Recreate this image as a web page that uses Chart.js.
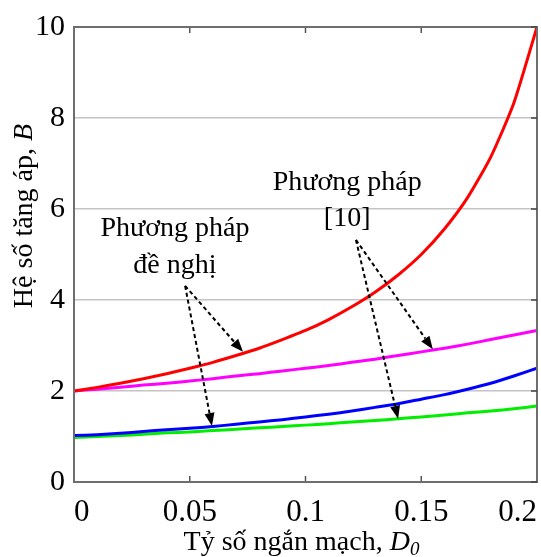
<!DOCTYPE html>
<html>
<head>
<meta charset="utf-8">
<script src="https://cdn.jsdelivr.net/npm/chart.js@4"></script>
<style>
  html, body { margin: 0; padding: 0; background: #fff; }
  #wrap { width: 541px; height: 557px; }
</style>
</head>
<body>
<div id="wrap"><canvas id="chart" width="541" height="557"></canvas></div>
<script>
// Tỷ số ngắn mạch D0
const d0 = [0, 0.01, 0.02, 0.03, 0.04, 0.05, 0.06, 0.07, 0.08, 0.09, 0.10,
            0.11, 0.12, 0.13, 0.14, 0.15, 0.16, 0.17, 0.18, 0.19, 0.20];

// Hệ số tăng áp B
const redB     = [2.00, 2.08, 2.17, 2.27, 2.38, 2.50, 2.63, 2.78, 2.94, 3.13, 3.33,
                  3.57, 3.85, 4.17, 4.55, 5.00, 5.56, 6.25, 7.14, 8.33, 10.0];
const magentaB = [2.00, 2.04, 2.08, 2.13, 2.17, 2.22, 2.27, 2.33, 2.38, 2.44, 2.50,
                  2.56, 2.63, 2.70, 2.78, 2.86, 2.94, 3.03, 3.13, 3.23, 3.33];
const blueB    = [1.02, 1.04, 1.07, 1.11, 1.15, 1.18, 1.22, 1.27, 1.32, 1.37, 1.43,
                  1.49, 1.56, 1.64, 1.72, 1.82, 1.92, 2.04, 2.17, 2.33, 2.50];
const greenB   = [0.98, 1.00, 1.02, 1.05, 1.08, 1.10, 1.13, 1.16, 1.19, 1.22, 1.25,
                  1.28, 1.32, 1.35, 1.39, 1.43, 1.47, 1.52, 1.56, 1.61, 1.67];

const xTicks = [0, 0.05, 0.1, 0.15, 0.2];
const yTicks = [0, 2, 4, 6, 8, 10];

// chú thích: chữ và mũi tên (tọa độ dữ liệu)
const notes = [
  { lines: ['Phương pháp', 'đề nghị'], x: 0.0436, y: [5.56, 4.76],
    from: [0.048, 4.31], to: [[0.073, 2.86], [0.0596, 1.23]] },
  { lines: ['Phương pháp', '[10]'], x: 0.118, y: [6.58, 5.78],
    from: [0.1218, 5.32], to: [[0.155, 2.92], [0.14, 1.39]] }
];

const serif = '"Liberation Serif", "Times New Roman", serif';

function toXY(xs, ys) {
  return xs.map((x, i) => ({ x: x, y: ys[i] }));
}

function arrow(ctx, x1, y1, x2, y2) {
  const ang = Math.atan2(y2 - y1, x2 - x1);
  const len = 13, half = 5;
  const bx = x2 - len * Math.cos(ang), by = y2 - len * Math.sin(ang);
  ctx.save();
  ctx.strokeStyle = '#000';
  ctx.lineWidth = 2;
  ctx.setLineDash([4, 3]);
  ctx.beginPath();
  ctx.moveTo(x1, y1);
  ctx.lineTo(bx, by);
  ctx.stroke();
  ctx.setLineDash([]);
  ctx.fillStyle = '#000';
  ctx.beginPath();
  ctx.moveTo(x2, y2);
  ctx.lineTo(bx + half * Math.sin(ang), by - half * Math.cos(ang));
  ctx.lineTo(bx - half * Math.sin(ang), by + half * Math.cos(ang));
  ctx.closePath();
  ctx.fill();
  ctx.restore();
}

const decor = {
  id: 'decor',
  beforeDatasetsDraw(chart) {
    const { ctx, chartArea: a, scales: { x } } = chart;
    ctx.save();
    ctx.strokeStyle = '#555';
    ctx.lineWidth = 1.5;
    // vạch chia trục x phía trong (trên và dưới)
    xTicks.forEach(v => {
      const px = x.getPixelForValue(v);
      ctx.beginPath();
      ctx.moveTo(px, a.bottom); ctx.lineTo(px, a.bottom - 6);
      ctx.moveTo(px, a.top); ctx.lineTo(px, a.top + 6);
      ctx.stroke();
    });
    ctx.restore();
  },
  afterDatasetsDraw(chart) {
    const { ctx, chartArea: a, scales: { x, y } } = chart;
    ctx.save();
    // khung
    ctx.strokeStyle = '#6e6e6e';
    ctx.lineWidth = 2;
    ctx.strokeRect(a.left, a.top, a.right - a.left, a.bottom - a.top);
    ctx.strokeStyle = '#444';
    ctx.lineWidth = 1.5;
    yTicks.forEach(v => {
      const py = y.getPixelForValue(v);
      ctx.beginPath();
      ctx.moveTo(a.right, py); ctx.lineTo(a.right - 6, py);
      ctx.stroke();
    });

    // chú thích
    ctx.fillStyle = '#000';
    ctx.font = '28px ' + serif;
    ctx.textAlign = 'center';
    ctx.textBaseline = 'middle';
    notes.forEach(n => {
      n.lines.forEach((t, i) => ctx.fillText(t, x.getPixelForValue(n.x), y.getPixelForValue(n.y[i])));
      const fx = x.getPixelForValue(n.from[0]), fy = y.getPixelForValue(n.from[1]);
      n.to.forEach(p => arrow(ctx, fx, fy, x.getPixelForValue(p[0]), y.getPixelForValue(p[1])));
    });

    // tên trục y
    ctx.save();
    ctx.translate(25, 216);
    ctx.rotate(-Math.PI / 2);
    ctx.font = '28px ' + serif;
    const yt = 'Hệ số tăng áp, ';
    const yw = ctx.measureText(yt).width;
    ctx.font = 'italic 28px ' + serif;
    const bw = ctx.measureText('B').width;
    ctx.textAlign = 'left';
    ctx.font = '28px ' + serif;
    ctx.fillText(yt, -(yw + bw) / 2, 0);
    ctx.font = 'italic 28px ' + serif;
    ctx.fillText('B', -(yw + bw) / 2 + yw, 0);
    ctx.restore();

    // tên trục x
    ctx.font = '28px ' + serif;
    const xt = 'Tỷ số ngắn mạch, ';
    const xw = ctx.measureText(xt).width;
    ctx.font = 'italic 28px ' + serif;
    const dw = ctx.measureText('D').width;
    ctx.font = 'italic 19px ' + serif;
    const zw = ctx.measureText('0').width;
    let sx = (a.left + a.right) / 2 - 4 - (xw + dw + zw) / 2;
    ctx.textAlign = 'left';
    ctx.font = '28px ' + serif;
    ctx.fillText(xt, sx, 543);
    ctx.font = 'italic 28px ' + serif;
    ctx.fillText('D', sx + xw, 543);
    ctx.font = 'italic 19px ' + serif;
    ctx.fillText('0', sx + xw + dw, 550);
    ctx.restore();
  }
};

function line(label, ys, color) {
  return {
    label: label,
    data: toXY(d0, ys),
    borderColor: color,
    backgroundColor: color,
    borderWidth: 3,
    pointRadius: 0,
    tension: 0.2,
    fill: false
  };
}

new Chart(document.getElementById('chart'), {
  type: 'line',
  data: {
    datasets: [
      line('Phương pháp đề nghị (B)', blueB, '#0000ff'),
      line('Phương pháp [10] (B)', greenB, '#00ee00'),
      line('Phương pháp đề nghị', redB, '#ff0000'),
      line('Phương pháp [10]', magentaB, '#ff00ff')
    ]
  },
  options: {
    responsive: false,
    animation: false,
    layout: { padding: { top: 20, right: 4, left: 0, bottom: 0 } },
    plugins: { legend: { display: false }, tooltip: { enabled: false } },
    scales: {
      x: {
        type: 'linear',
        min: 0, max: 0.2,
        afterBuildTicks(s) { s.ticks = xTicks.map(v => ({ value: v })); },
        afterFit(s) { s.height = 75; s.paddingLeft = 0; s.paddingRight = 0; },
        grid: { display: false },
        border: { display: false },
        ticks: {
          align: 'inner',
          color: '#000',
          padding: 4,
          maxRotation: 0,
          font: { family: serif, size: 31 },
          callback: v => String(v)
        }
      },
      y: {
        min: 0, max: 10,
        afterBuildTicks(s) { s.ticks = yTicks.map(v => ({ value: v })); },
        afterFit(s) { s.width = 74; },
        grid: { color: '#c4c4c4', lineWidth: 1.5, drawTicks: false },
        border: { display: false },
        ticks: {
          color: '#000',
          padding: 9,
          font: { family: serif, size: 30 },
          callback: v => String(v)
        }
      }
    }
  },
  plugins: [decor]
});
</script>
</body>
</html>
